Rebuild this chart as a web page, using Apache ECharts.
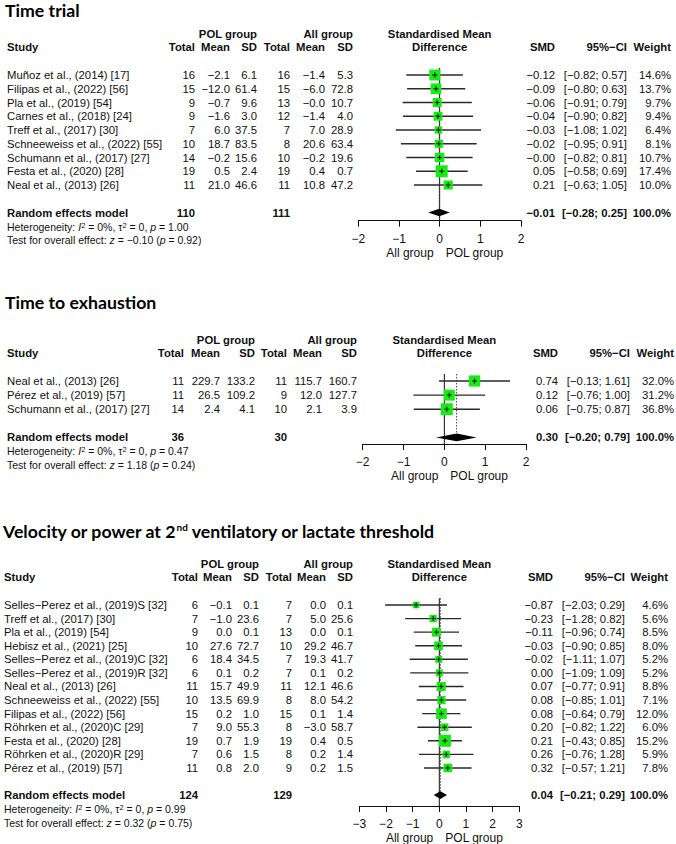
<!DOCTYPE html>
<html><head><meta charset="utf-8">
<script src="https://cdn.jsdelivr.net/npm/echarts@6/dist/echarts.min.js"></script>
<style>html,body{margin:0;padding:0;background:#fff}#c{width:676px;height:844px}</style>
</head><body><div id="c"></div>
<script>
// ---------- Panel 1: Time trial ----------
const tt_title = 'Time trial';
const tt_studies = ['Muñoz et al., (2014) [17]', 'Filipas et al., (2022) [56]', 'Pla et al., (2019) [54]', 'Carnes et al., (2018) [24]', 'Treff et al., (2017) [30]', 'Schneeweiss et al., (2022) [55]', 'Schumann et al., (2017) [27]', 'Festa et al., (2020) [28]', 'Neal et al., (2013) [26]'];
const tt_polTotal = [16, 15, 9, 9, 7, 10, 14, 19, 11];
const tt_polMean = [-2.1, -12.0, -0.7, -1.6, 6.0, 18.7, -0.2, 0.5, 21.0];
const tt_polSD = [6.1, 61.4, 9.6, 3.0, 37.5, 83.5, 15.6, 2.4, 46.6];
const tt_allTotal = [16, 15, 13, 12, 7, 8, 10, 19, 11];
const tt_allMean = [-1.4, -6.0, -0.0, -1.4, 7.0, 20.6, -0.2, 0.4, 10.8];
const tt_allSD = [5.3, 72.8, 10.7, 4.0, 28.9, 63.4, 19.6, 0.7, 47.2];
const tt_smd = [-0.12, -0.09, -0.06, -0.04, -0.03, -0.02, -0.00, 0.05, 0.21];
const tt_lower = [-0.82, -0.80, -0.91, -0.90, -1.08, -0.95, -0.82, -0.58, -0.63];
const tt_upper = [0.57, 0.63, 0.79, 0.82, 1.02, 0.91, 0.81, 0.69, 1.05];
const tt_weight = [14.6, 13.7, 9.7, 9.4, 6.4, 8.1, 10.7, 17.4, 10.0];
const tt_summary = [-0.01, -0.28, 0.25, 100.0]; // SMD, lower, upper, weight
const tt_totals = [110, 111];
const tt_het = ['0%', '0', '1.00'];
const tt_test = ['\u22120.10', '0.92'];
const tt_ticks = [-2, -1, 0, 1, 2];

// ---------- Panel 2: Time to exhaustion ----------
const tx_title = 'Time to exhaustion';
const tx_studies = ['Neal et al., (2013) [26]', 'Pérez et al., (2019) [57]', 'Schumann et al., (2017) [27]'];
const tx_polTotal = [11, 11, 14];
const tx_polMean = [229.7, 26.5, 2.4];
const tx_polSD = [133.2, 109.2, 4.1];
const tx_allTotal = [11, 9, 10];
const tx_allMean = [115.7, 12.0, 2.1];
const tx_allSD = [160.7, 127.7, 3.9];
const tx_smd = [0.74, 0.12, 0.06];
const tx_lower = [-0.13, -0.76, -0.75];
const tx_upper = [1.61, 1.00, 0.87];
const tx_weight = [32.0, 31.2, 36.8];
const tx_summary = [0.30, -0.20, 0.79, 100.0];
const tx_totals = [36, 30];
const tx_het = ['0%', '0', '0.47'];
const tx_test = ['1.18', '0.24'];
const tx_ticks = [-2, -1, 0, 1, 2];

// ---------- Panel 3: Velocity or power at 2nd threshold ----------
const vt_title = 'Velocity or power at 2{sup|nd} ventilatory or lactate threshold';
const vt_studies = ['Selles\u2212Perez et al., (2019)S [32]', 'Treff et al., (2017) [30]', 'Pla et al., (2019) [54]', 'Hebisz et al., (2021) [25]', 'Selles\u2212Perez et al., (2019)C [32]', 'Selles\u2212Perez et al., (2019)R [32]', 'Neal et al., (2013) [26]', 'Schneeweiss et al., (2022) [55]', 'Filipas et al., (2022) [56]', 'Röhrken et al., (2020)C [29]', 'Festa et al., (2020) [28]', 'Röhrken et al., (2020)R [29]', 'Pérez et al., (2019) [57]'];
const vt_polTotal = [6, 7, 9, 10, 6, 6, 11, 10, 15, 7, 19, 7, 11];
const vt_polMean = [-0.1, -1.0, 0.0, 27.6, 18.4, 0.1, 15.7, 13.5, 0.2, 9.0, 0.7, 0.6, 0.8];
const vt_polSD = [0.1, 23.6, 0.1, 72.7, 34.5, 0.2, 49.9, 69.9, 1.0, 55.3, 1.9, 1.5, 2.0];
const vt_allTotal = [7, 7, 13, 10, 7, 7, 11, 8, 15, 8, 19, 8, 9];
const vt_allMean = [0.0, 5.0, 0.0, 29.2, 19.3, 0.1, 12.1, 8.0, 0.1, -3.0, 0.4, 0.2, 0.2];
const vt_allSD = [0.1, 25.6, 0.1, 46.7, 41.7, 0.2, 46.6, 54.2, 1.4, 58.7, 0.5, 1.4, 1.5];
const vt_smd = [-0.87, -0.23, -0.11, -0.03, -0.02, 0.00, 0.07, 0.08, 0.08, 0.20, 0.21, 0.26, 0.32];
const vt_lower = [-2.03, -1.28, -0.96, -0.90, -1.11, -1.09, -0.77, -0.85, -0.64, -0.82, -0.43, -0.76, -0.57];
const vt_upper = [0.29, 0.82, 0.74, 0.85, 1.07, 1.09, 0.91, 1.01, 0.79, 1.22, 0.85, 1.28, 1.21];
const vt_weight = [4.6, 5.6, 8.5, 8.0, 5.2, 5.2, 8.8, 7.1, 12.0, 6.0, 15.2, 5.9, 7.8];
const vt_summary = [0.04, -0.21, 0.29, 100.0];
const vt_totals = [124, 129];
const vt_het = ['0%', '0', '0.99'];
const vt_test = ['0.32', '0.75'];
const vt_ticks = [-3, -2, -1, 0, 1, 2, 3];

// ---------- Styling / layout ----------
const FONT = 'Liberation Sans, Arial, sans-serif';
const TFONT = 'Lato, sans-serif';
const FS = 11.3, FSF = 10.5, FSA = 12, FSTITLE = 17.7;
const INK = '#111';
const GREEN = '#14ec14';
const SQ = 12;
const YMIN = -0.5;

function fmt(v, d) {
  const neg = v < 0 || Object.is(v, -0);
  return (neg ? '\u2212' : '') + Math.abs(v).toFixed(d);
}

const panels = [
  { title: tt_title, titleX: 5, titleY: 10, studyX: 7,
    studies: tt_studies, polTotal: tt_polTotal, polMean: tt_polMean, polSD: tt_polSD,
    allTotal: tt_allTotal, allMean: tt_allMean, allSD: tt_allSD,
    smd: tt_smd, lower: tt_lower, upper: tt_upper, weight: tt_weight,
    summary: tt_summary, totals: tt_totals, het: tt_het, test: tt_test, ticks: tt_ticks,
    xLeft: 358.3, xWidth: 162.7, y0: 75, dy: 13.75, axisY: 220.7,
    cols: { t1: 195, m1: 230, s1: 257, t2: 290, m2: 325, s2: 353, smd: 555, ci: 627, w: 671 } },
  { title: tx_title, titleX: 5, titleY: 302, studyX: 7,
    studies: tx_studies, polTotal: tx_polTotal, polMean: tx_polMean, polSD: tx_polSD,
    allTotal: tx_allTotal, allMean: tx_allMean, allSD: tx_allSD,
    smd: tx_smd, lower: tx_lower, upper: tx_upper, weight: tx_weight,
    summary: tx_summary, totals: tx_totals, het: tx_het, test: tx_test, ticks: tx_ticks,
    xLeft: 362.7, xWidth: 163.3, y0: 381, dy: 14.1, axisY: 444,
    cols: { t1: 184, m1: 220, s1: 255, t2: 287, m2: 322, s2: 357, smd: 558, ci: 630, w: 674 } },
  { title: vt_title, titleX: 3, titleY: 531, studyX: 4,
    studies: vt_studies, polTotal: vt_polTotal, polMean: vt_polMean, polSD: vt_polSD,
    allTotal: vt_allTotal, allMean: vt_allMean, allSD: vt_allSD,
    smd: vt_smd, lower: vt_lower, upper: vt_upper, weight: vt_weight,
    summary: vt_summary, totals: vt_totals, het: vt_het, test: vt_test, ticks: vt_ticks,
    xLeft: 359.3, xWidth: 160, y0: 605, dy: 13.58, axisY: 806,
    cols: { t1: 198, m1: 232, s1: 259, t2: 292, m2: 326, s2: 353, smd: 553, ci: 625, w: 668 } }
];

function T(x, y, text, align, o) {
  o = o || {};
  return { type: 'text', x: x, y: y, silent: true,
    style: Object.assign({ text: text, fill: INK, fontFamily: FONT, fontSize: o.fs || FS,
      fontWeight: o.bold ? 'bold' : 'normal', align: align || 'left', verticalAlign: 'middle' }, o.style || {}) };
}

const richFoot = {
  it: { fontStyle: 'italic', fontSize: FSF, fontFamily: FONT, fill: INK },
  sup: { fontSize: 7.5, fontFamily: FONT, fill: INK, verticalAlign: 'top' }
};

const grid = [], xAxis = [], yAxis = [], series = [], graphic = [];

panels.forEach((P, k) => {
  const n = P.studies.length;
  const ymax = (P.axisY - P.y0) / P.dy;
  const sumRow = n + 1;
  const wmax = Math.max.apply(null, P.weight);
  grid.push({ left: P.xLeft, width: P.xWidth, top: P.y0 + YMIN * P.dy, height: (ymax - YMIN) * P.dy });
  xAxis.push({ type: 'value', gridIndex: k, min: P.ticks[0], max: P.ticks[P.ticks.length - 1], interval: 1,
    axisLine: { show: true, onZero: false, lineStyle: { color: INK, width: 1 } },
    axisTick: { show: true, length: 6, lineStyle: { color: INK, width: 1 } },
    axisLabel: { color: INK, fontSize: FSA, fontFamily: FONT, margin: 12, showMinLabel: true, showMaxLabel: true,
      formatter: v => (v < 0 ? '\u2212' + Math.abs(v) : String(v)) },
    splitLine: { show: false } });
  yAxis.push({ type: 'value', gridIndex: k, inverse: true, min: YMIN, max: ymax, show: false });

  // summary, reference lines, headers, footers
  series.push({
    type: 'custom', xAxisIndex: k, yAxisIndex: k, clip: false, silent: true,
    data: [[P.summary[0], sumRow, P.summary[1], P.summary[2]]],
    encode: { x: [0, 2, 3], y: 1 },
    renderItem: function (params, api) {
      const row = api.value(1);
      const c = api.coord([api.value(0), row]);
      const l = api.coord([api.value(2), row]);
      const h = api.coord([api.value(3), row]);
      const top = api.coord([0, YMIN])[1];
      const bot = api.coord([0, ymax])[1];
      const zx = api.coord([0, row])[0];
      const r0 = api.coord([0, 0])[1];
      const hd = 3.8;
      const C = P.cols;
      const ch = [
        { type: 'line', shape: { x1: zx, y1: top, x2: zx, y2: bot }, style: { stroke: INK, lineWidth: 1 } },
        { type: 'line', shape: { x1: c[0], y1: top, x2: c[0], y2: c[1] - hd }, style: { stroke: '#444', lineWidth: 1, lineDash: [1.5, 1.5] } },
        { type: 'polygon', shape: { points: [[l[0], c[1]], [c[0], c[1] - hd], [h[0], c[1]], [c[0], c[1] + hd]] }, style: { fill: '#000' } },
        // headers
        T(C.s1, r0 - 41, 'POL group', 'right', { bold: true }),
        T(C.s2, r0 - 41, 'All group', 'right', { bold: true }),
        T(zx, r0 - 41, 'Standardised Mean', 'center', { bold: true }),
        T(P.studyX, r0 - 28, 'Study', 'left', { bold: true }),
        T(C.t1, r0 - 28, 'Total', 'right', { bold: true }),
        T(C.m1, r0 - 28, 'Mean', 'right', { bold: true }),
        T(C.s1, r0 - 28, 'SD', 'right', { bold: true }),
        T(C.t2, r0 - 28, 'Total', 'right', { bold: true }),
        T(C.m2, r0 - 28, 'Mean', 'right', { bold: true }),
        T(C.s2, r0 - 28, 'SD', 'right', { bold: true }),
        T(zx, r0 - 28, 'Difference', 'center', { bold: true }),
        T(C.smd, r0 - 28, 'SMD', 'right', { bold: true }),
        T(C.ci, r0 - 28, '95%\u2212CI', 'right', { bold: true }),
        T(C.w, r0 - 28, 'Weight', 'right', { bold: true }),
        // summary row
        T(P.studyX, c[1], 'Random effects model', 'left', { bold: true }),
        T(C.t1, c[1], String(P.totals[0]), 'right', { bold: true }),
        T(C.t2, c[1], String(P.totals[1]), 'right', { bold: true }),
        T(C.smd, c[1], fmt(P.summary[0], 2), 'right', { bold: true }),
        T(C.ci, c[1], '[' + fmt(P.summary[1], 2) + '; ' + fmt(P.summary[2], 2) + ']', 'right', { bold: true }),
        T(C.w, c[1], P.summary[3].toFixed(1) + '%', 'right', { bold: true }),
        // footers
        T(P.studyX, c[1] + 14, 'Heterogeneity: {it|I}{sup|2} = ' + P.het[0] + ', \u03c4{sup|2} = ' + P.het[1] + ', {it|p} = ' + P.het[2], 'left',
          { fs: FSF, style: { rich: richFoot } }),
        T(P.studyX, c[1] + 27.5, 'Test for overall effect: {it|z} = ' + P.test[0] + ' ({it|p} = ' + P.test[1] + ')', 'left',
          { fs: FSF, style: { rich: richFoot } }),
        // direction labels
        T(zx - 6, bot + 32, 'All group', 'right', { fs: FSA }),
        T(zx + 6, bot + 32, 'POL group', 'left', { fs: FSA })
      ];
      return { type: 'group', children: ch };
    }
  });

  // study marks
  series.push({
    type: 'custom', xAxisIndex: k, yAxisIndex: k, clip: false, silent: true,
    data: P.smd.map((v, i) => [v, i, P.lower[i], P.upper[i], P.weight[i]]),
    encode: { x: [0, 2, 3], y: 1 },
    renderItem: function (params, api) {
      const y = api.value(1);
      const p = api.coord([api.value(0), y]);
      const l = api.coord([api.value(2), y]);
      const h = api.coord([api.value(3), y]);
      const s = SQ * Math.sqrt(api.value(4) / wmax);
      return { type: 'group', children: [
        { type: 'line', shape: { x1: l[0], y1: p[1], x2: h[0], y2: p[1] }, style: { stroke: '#2a2a2a', lineWidth: 1.4 } },
        { type: 'rect', shape: { x: p[0] - s / 2, y: p[1] - s / 2, width: s, height: s }, style: { fill: GREEN } },
        { type: 'line', shape: { x1: p[0] - 2.5, y1: p[1], x2: p[0] + 2.5, y2: p[1] }, style: { stroke: '#000', lineWidth: 1 } },
        { type: 'line', shape: { x1: p[0], y1: p[1] - 2.5, x2: p[0], y2: p[1] + 2.5 }, style: { stroke: '#000', lineWidth: 1 } }
      ] };
    }
  });

  // table text per row
  series.push({
    type: 'custom', xAxisIndex: k, yAxisIndex: k, clip: false, silent: true,
    data: P.studies.map((s, i) => [0, i]),
    encode: { x: 0, y: 1 },
    renderItem: function (params, api) {
      const i = api.value(1);
      const y = api.coord([0, i])[1];
      const C = P.cols;
      return { type: 'group', children: [
        T(P.studyX, y, P.studies[i], 'left'),
        T(C.t1, y, String(P.polTotal[i]), 'right'),
        T(C.m1, y, fmt(P.polMean[i], 1), 'right'),
        T(C.s1, y, fmt(P.polSD[i], 1), 'right'),
        T(C.t2, y, String(P.allTotal[i]), 'right'),
        T(C.m2, y, fmt(P.allMean[i], 1), 'right'),
        T(C.s2, y, fmt(P.allSD[i], 1), 'right'),
        T(C.smd, y, fmt(P.smd[i], 2), 'right'),
        T(C.ci, y, '[' + fmt(P.lower[i], 2) + '; ' + fmt(P.upper[i], 2) + ']', 'right'),
        T(C.w, y, P.weight[i].toFixed(1) + '%', 'right')
      ] };
    }
  });

  graphic.push({ type: 'text', x: P.titleX, y: P.titleY, silent: true,
    style: { text: P.title, fill: '#000', fontFamily: TFONT, fontSize: FSTITLE, fontWeight: 'bold',
      verticalAlign: 'middle', align: 'left',
      rich: { sup: { fontFamily: TFONT, fontSize: 10, fontWeight: 'bold', fill: '#000', verticalAlign: 'top' } } } });
});

const chart = echarts.init(document.getElementById('c'), null, { renderer: 'svg' });
chart.setOption({
  animation: false,
  backgroundColor: '#fff',
  grid: grid, xAxis: xAxis, yAxis: yAxis, series: series, graphic: graphic
});
</script>
</body></html>
